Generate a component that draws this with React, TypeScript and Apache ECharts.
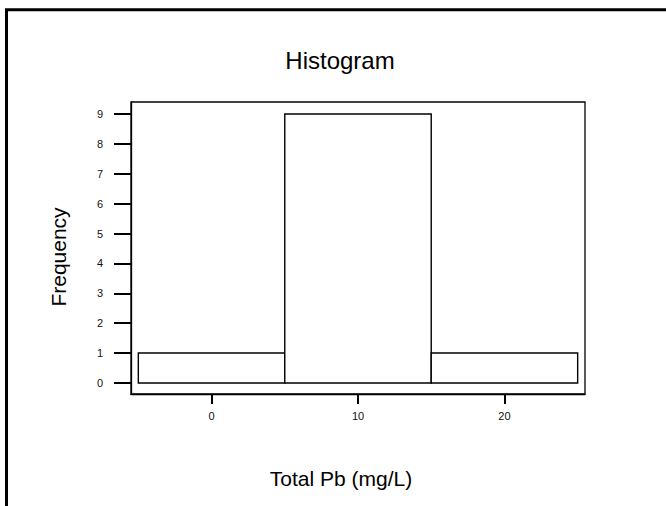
import React, { useEffect, useRef } from "react";
import * as echarts from "echarts";

// Histogram data: bin edges and counts
const binStarts = [-5, 5, 15];
const binEnds = [5, 15, 25];
const frequencies = [1, 9, 1];

const xTickValues = [0, 10, 20];
const yTickValues = [0, 1, 2, 3, 4, 5, 6, 7, 8, 9];

const titleText = "Histogram";
const xAxisTitle = "Total Pb (mg/L)";
const yAxisTitle = "Frequency";

const FONT = "'Liberation Sans', Arial, Helvetica, sans-serif";

export default function App() {
  const ref = useRef<HTMLDivElement>(null);
  useEffect(() => {
    if (!ref.current) return;
    const chart = echarts.init(ref.current, undefined, { renderer: "svg" });
    const data = binStarts.map((s, i) => [s, binEnds[i], frequencies[i]]);
    chart.setOption({
      animation: false,
      backgroundColor: "#fff",
      grid: {
        left: 131,
        right: 81,
        top: 102,
        bottom: 112,
        show: true,
        borderColor: "#000",
        borderWidth: 1.3,
        backgroundColor: "transparent",
      },
      xAxis: {
        type: "value",
        min: -5.5,
        max: 25.5,
        splitLine: { show: false },
        axisLine: { show: true, onZero: false, lineStyle: { color: "#000", width: 1.3 } },
        axisTick: {
          show: true,
          length: 10,
          customValues: xTickValues,
          lineStyle: { color: "#000", width: 2 },
        },
        axisLabel: {
          customValues: xTickValues,
          margin: 16,
          fontSize: 11,
          color: "#111",
          fontFamily: FONT,
        },
      },
      yAxis: {
        type: "value",
        min: -0.37,
        max: 9.4,
        splitLine: { show: false },
        axisLine: { show: true, onZero: false, lineStyle: { color: "#000", width: 1.3 } },
        axisTick: {
          show: true,
          length: 17,
          customValues: yTickValues,
          lineStyle: { color: "#000", width: 2 },
        },
        axisLabel: {
          customValues: yTickValues,
          margin: 28,
          fontSize: 11,
          color: "#111",
          fontFamily: FONT,
        },
      },
      series: [
        {
          type: "custom",
          data,
          clip: false,
          renderItem: (params: any, api: any) => {
            const x0 = api.value(0);
            const x1 = api.value(1);
            const y = api.value(2);
            const p0 = api.coord([x0, y]);
            const p1 = api.coord([x1, 0]);
            return {
              type: "rect",
              shape: {
                x: p0[0],
                y: p0[1],
                width: p1[0] - p0[0],
                height: p1[1] - p0[1],
              },
              style: { fill: "#fff", stroke: "#000", lineWidth: 1.4 },
            };
          },
        },
      ],
      graphic: [
        {
          type: "polyline",
          shape: { points: [[6.5, 506], [6.5, 9.7], [666, 9.7]] },
          style: { stroke: "#000", lineWidth: 3, fill: null },
        },
        {
          type: "text",
          x: 340,
          y: 60,
          style: {
            text: titleText,
            fontSize: 24,
            fontFamily: FONT,
            fill: "#000",
            textAlign: "center",
            textVerticalAlign: "middle",
          },
        },
        {
          type: "text",
          x: 341,
          y: 478,
          style: {
            text: xAxisTitle,
            fontSize: 21,
            fontFamily: FONT,
            fill: "#000",
            textAlign: "center",
            textVerticalAlign: "middle",
          },
        },
        {
          type: "text",
          x: 58,
          y: 257,
          rotation: Math.PI / 2,
          style: {
            text: yAxisTitle,
            fontSize: 21,
            fontFamily: FONT,
            fill: "#000",
            textAlign: "center",
            textVerticalAlign: "middle",
          },
        },
      ],
    });
    return () => chart.dispose();
  }, []);
  return (
    <div
      ref={ref}
      style={{ position: "fixed", left: 0, top: 0, width: 666, height: 506 }}
    />
  );
}
